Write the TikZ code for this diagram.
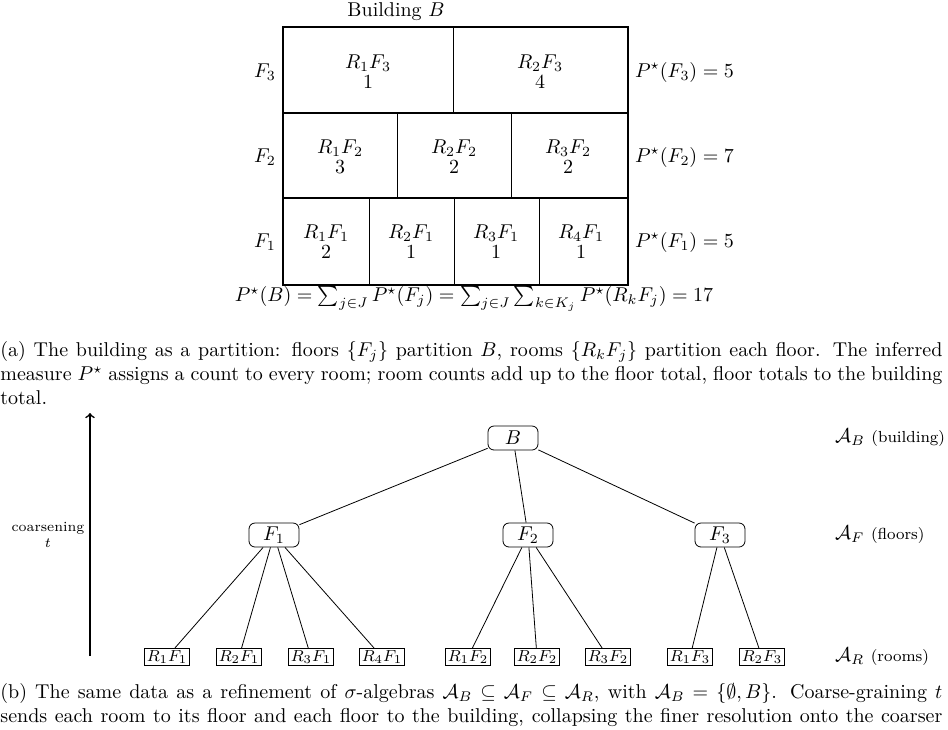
\documentclass[tikz,border=0pt]{standalone}
\usepackage{amsmath,amssymb}
\begin{document}
\begin{tikzpicture}[x=0.5pt,y=-0.5pt,
 fl/.style={rounded corners=3pt,draw,minimum width=25pt,minimum height=12pt,inner sep=1.5pt},
 rm/.style={draw,inner sep=1pt,font=\footnotesize},
 captxt/.style={text width=471pt,align=justify,inner sep=0pt,anchor=north west,font=\normalsize}]
\useasboundingbox (0,0) rectangle (948,729);
\node (title) at (396,12) {Building $B$};
\draw[line width=1pt] (283,27) rectangle (628,285);
\draw[line width=1pt] (283,113) -- (628,113) (283,198) -- (628,198);
\draw (453,27)--(453,113) (397,113)--(397,198) (511,113)--(511,198)
 (369,198)--(369,285) (454,198)--(454,285) (539,198)--(539,285);
\node (lf3) at (265,72) {$F_3$};
\node (lf2) at (265,157) {$F_2$};
\node (lf1) at (265,242) {$F_1$};
\node[anchor=west] (p3) at (628,72) {$P^\star(F_3)=5$};
\node[anchor=west] (p2) at (628,157) {$P^\star(F_2)=7$};
\node[anchor=west] (p1) at (628,242) {$P^\star(F_1)=5$};
\foreach \x/\r/\f/\v in {368/1/3/1,540/2/3/4,340/1/2/3,454/2/2/2,568/3/2/2,326/1/1/2,411/2/1/1,496/3/1/1,581/4/1/1}{
 \node[align=center] (c\r\f) at (\x, {72+85*(3-\f)}) {$R_{\r}F_{\f}$\\[-2pt]$\v$};}
\node (sum) at (474,299) {$P^\star(B)=\sum_{j\in J}P^\star(F_j)=\sum_{j\in J}\sum_{k\in K_j}P^\star(R_kF_j)=17$};
\node[captxt] (capa) at (0,341) {(a) The building as a partition: floors $\{F_j\}$ partition $B$, rooms $\{R_kF_j\}$ partition each floor. The inferred measure $P^\star$ assigns a count to every room; room counts add up to the floor total, floor totals to the building total.};
\node[fl] (B) at (513,438) {$B$};
\node[fl] (F1) at (274,535) {$F_1$};
\node[fl] (F2) at (528,535) {$F_2$};
\node[fl] (F3) at (720,535) {$F_3$};
\foreach \x/\r/\f in {167/1/1,239/2/1,311/3/1,382/4/1,468/1/2,537/2/2,608/3/2,690/1/3,762/2/3}{
 \node[rm] (n\r\f) at (\x,657) {$R_{\r}F_{\f}$};
 \draw (F\f) -- (n\r\f);}
\draw (B)--(F1) (B)--(F2) (B)--(F3);
\node[anchor=west] (ab) at (828,438) {$\mathcal{A}_B$ {\footnotesize(building)}};
\node[anchor=west] (af) at (828,535) {$\mathcal{A}_F$ {\footnotesize(floors)}};
\node[anchor=west] (ar) at (828,657) {$\mathcal{A}_R$ {\footnotesize(rooms)}};
\coordinate (a0) at (90,656);
\coordinate (a1) at (90,413);
\draw[->,line width=0.8pt] (a0) -- (a1);
\node[align=center,font=\scriptsize] (co) at (48,535) {coarsening\\$t$};
\node[captxt] (capb) at (0,683) {(b) The same data as a refinement of $\sigma$-algebras $\mathcal{A}_B\subseteq\mathcal{A}_F\subseteq\mathcal{A}_R$, with $\mathcal{A}_B=\{\emptyset,B\}$. Coarse-graining $t$ sends each room to its floor and each floor to the building, collapsing the finer resolution onto the coarser one.};
\end{tikzpicture}
\end{document}
